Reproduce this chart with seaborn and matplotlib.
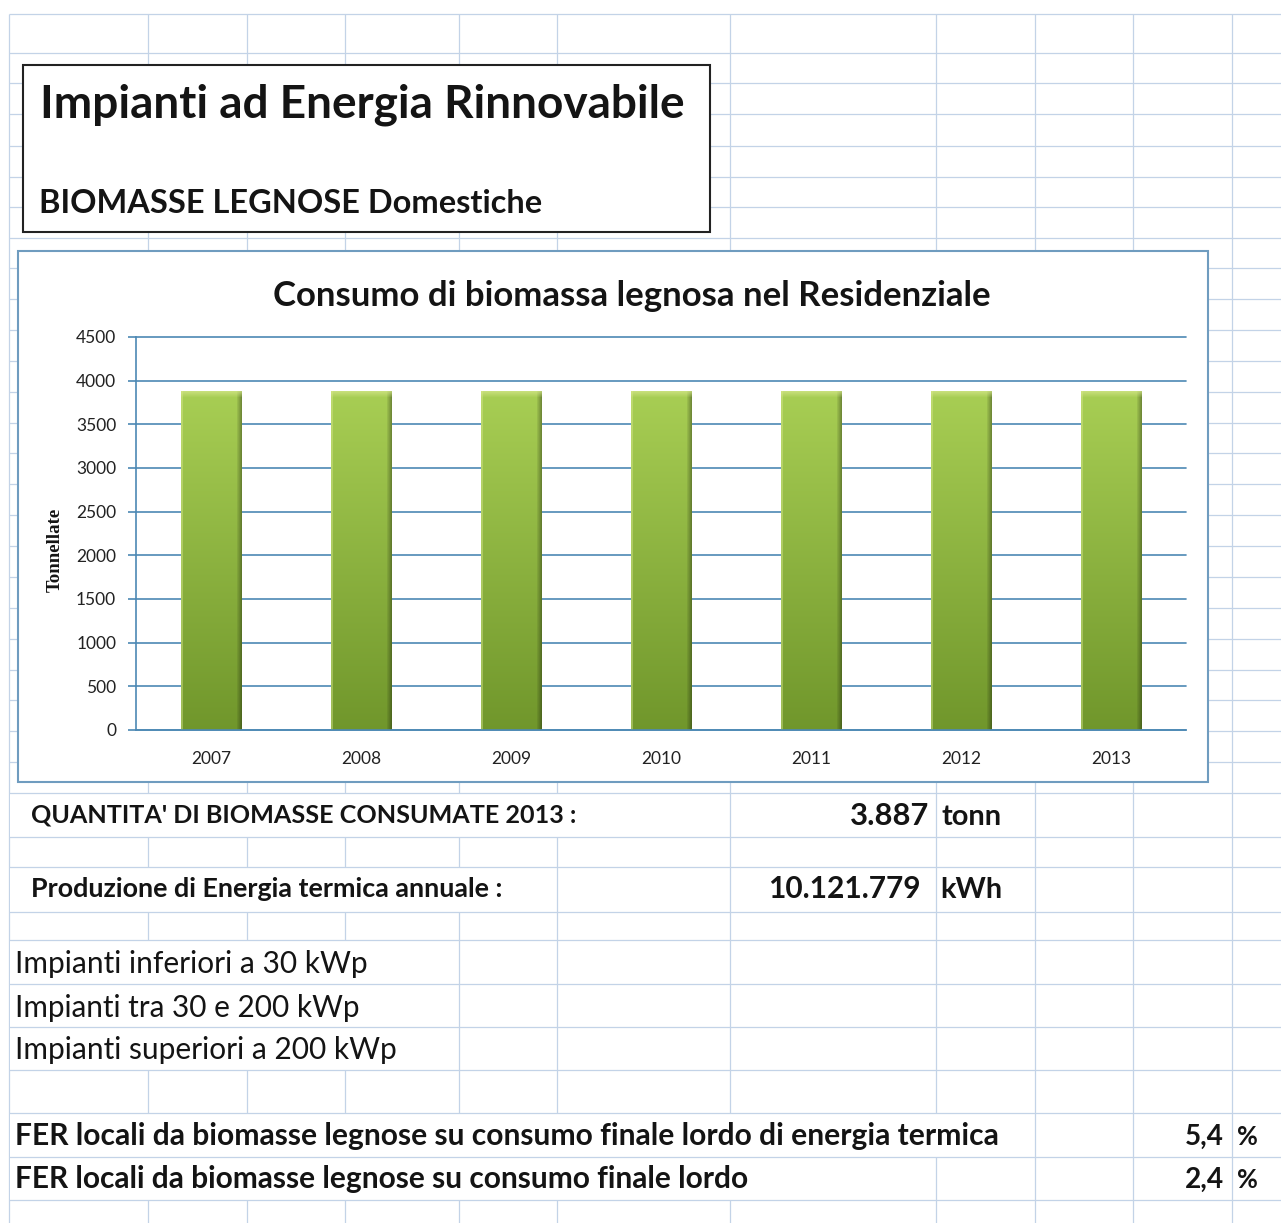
import numpy as np
import pandas as pd
import seaborn as sns
import matplotlib
matplotlib.use("Agg")
import matplotlib.pyplot as plt
from matplotlib.patches import Rectangle

# ---- data -------------------------------------------------------------
years = ["2007", "2008", "2009", "2010", "2011", "2012", "2013"]
consumo_tonn = [3887, 3887, 3887, 3887, 3887, 3887, 3887]
y_ticks = [0, 500, 1000, 1500, 2000, 2500, 3000, 3500, 4000, 4500]

titolo = "Impianti ad Energia Rinnovabile"
sottotitolo = "BIOMASSE LEGNOSE Domestiche"
titolo_grafico = "Consumo di biomassa legnosa nel Residenziale"
etichetta_y = "Tonnellate"

quantita_label = "QUANTITA' DI BIOMASSE CONSUMATE 2013 :"
quantita_valore = "3.887"
quantita_unita = "tonn"
produzione_label = "Produzione di Energia termica annuale :"
produzione_valore = "10.121.779"
produzione_unita = "kWh"
impianti_labels = ["Impianti inferiori a 30 kWp",
                   "Impianti tra 30 e 200 kWp",
                   "Impianti superiori a 200 kWp"]
fer_labels = ["FER locali da biomasse legnose su consumo finale lordo di energia termica",
              "FER locali da biomasse legnose su consumo finale lordo"]
fer_valori = ["5,4", "2,4"]

# ---- style ------------------------------------------------------------
sns.set_theme(style="white")
plt.rcParams["font.family"] = ["Lato", "DejaVu Sans"]

W, H = 1281, 1223
fig = plt.figure(figsize=(W / 100, H / 100), dpi=100)
fig.patch.set_facecolor("white")
renderer = fig.canvas.get_renderer()

INK = "#141414"
SHEET_GRID = "#c3d3e7"
CHART_LINE = "#4d89b4"
FRAME = "#6f9cbf"

# sheet layer in pixel coordinates (y grows downwards)
sheet = fig.add_axes([0, 0, 1, 1])
sheet.set_xlim(0, W)
sheet.set_ylim(H, 0)
sheet.axis("off")

col_lines = [9, 148, 247, 345, 459, 557, 730, 936, 1035, 1133, 1232]
row_lines = [14, 52.7, 83.3, 114.3, 145.7, 176.7, 207.3, 238.3, 268.3, 299.3,
             330, 361, 391.7, 422.7, 453.3, 484.3, 515, 546, 577, 608, 639,
             670, 700, 731, 762, 793, 837, 867, 911.7, 940, 984, 1027, 1070,
             1113, 1157, 1200]

sheet.vlines(col_lines, 14, H, color=SHEET_GRID, lw=0.9, zorder=1)

# cells whose text runs over the neighbouring empty cells hide the column lines
overflow = [(793, 837, 729), (867, 911.7, 556), (940, 984, 458), (984, 1027, 458),
            (1027, 1070, 458), (1113, 1157, 1034), (1157, 1200, 935)]
for top, bottom, right in overflow:
    sheet.add_patch(Rectangle((10, top), right - 10, bottom - top,
                              facecolor="white", edgecolor="none", zorder=1.5))

sheet.hlines(row_lines, 9, W, color=SHEET_GRID, lw=0.9, zorder=2)


def fitted_text(ax, x, y, s, width, vertical=False, **kw):
    """Place text and scale its size so that it spans `width` pixels."""
    t = ax.text(x, y, s, fontsize=20, color=kw.pop("color", INK), **kw)
    bb = t.get_window_extent(renderer)
    span = bb.height if vertical else bb.width
    t.set_fontsize(20 * width / span)
    return t


# title box
sheet.add_patch(Rectangle((23, 65), 687, 167, facecolor="white",
                          edgecolor="#222222", lw=1.5, zorder=3))
fitted_text(sheet, 40, 118, titolo, 646, fontweight="bold", va="baseline", zorder=4)
fitted_text(sheet, 39, 213, sottotitolo, 501, fontweight="bold", va="baseline", zorder=4)

# chart frame
sheet.add_patch(Rectangle((18, 251), 1190, 531, facecolor="white",
                          edgecolor=FRAME, lw=1.5, zorder=3))
fitted_text(sheet, 273, 306, titolo_grafico, 717, fontweight="bold",
            va="baseline", zorder=4)
fitted_text(sheet, 55, 550, etichetta_y, 84, vertical=True, rotation=90,
            ha="center", va="center", fontweight="bold",
            family=["Liberation Serif"], zorder=4)

# summary block below the chart
fitted_text(sheet, 31, 822, quantita_label, 546, fontweight="bold", va="baseline", zorder=4)
fitted_text(sheet, 929, 825, quantita_valore, 79, fontweight="bold", ha="right",
            va="baseline", zorder=4)
fitted_text(sheet, 942, 825, quantita_unita, 60, fontweight="bold", va="baseline", zorder=4)

fitted_text(sheet, 31, 897, produzione_label, 472, fontweight="bold", va="baseline", zorder=4)
fitted_text(sheet, 921, 898, produzione_valore, 153, fontweight="bold", ha="right",
            va="baseline", zorder=4)
fitted_text(sheet, 940, 898, produzione_unita, 62, fontweight="bold", va="baseline", zorder=4)

for label, base, right in zip(impianti_labels, [973, 1017, 1059], [368, 360, 398]):
    fitted_text(sheet, 15, base, label, right - 15, va="baseline", zorder=4)

for label, val, base, right in zip(fer_labels, fer_valori, [1145, 1188], [997, 748]):
    fitted_text(sheet, 15, base, label, right - 15, fontweight="bold",
                va="baseline", zorder=4)
    fitted_text(sheet, 1224, base, val, 39, fontweight="bold", ha="right",
                va="baseline", zorder=4)
    fitted_text(sheet, 1237, base, "%", 21, fontweight="bold", va="baseline", zorder=4)

# ---- bar chart --------------------------------------------------------
ax = fig.add_axes([136 / W, 1 - 730 / H, 1050 / W, 393 / H])
ax.set_facecolor("none")
df = pd.DataFrame({"Anno": years, "Tonnellate": consumo_tonn})
sns.barplot(data=df, x="Anno", y="Tonnellate", color="#8db83c", saturation=1,
            width=0.405, ax=ax, zorder=2)

ax.set_ylim(0, 4500)
ax.set_xlim(-0.5, len(years) - 0.5)
ax.set_yticks(y_ticks)
ax.set_xlabel("")
ax.set_ylabel("")
ax.yaxis.grid(True, color=CHART_LINE, lw=1.2)
for gl in ax.get_ygridlines():
    gl.set_clip_on(False)
ax.set_axisbelow(True)
for side in ("top", "right"):
    ax.spines[side].set_visible(False)
for side in ("left", "bottom"):
    ax.spines[side].set_color(CHART_LINE)
    ax.spines[side].set_linewidth(1.2)
ax.tick_params(axis="y", direction="out", length=5.8, width=1.2, color=CHART_LINE,
               pad=8.5, labelsize=12.5, labelcolor="#222222", left=True)
ax.tick_params(axis="x", length=0, pad=15, labelsize=12.5, labelcolor="#222222")

# shaded, bevelled fill for each bar
top_rgb = np.array([0.66, 0.81, 0.33])
bot_rgb = np.array([0.44, 0.59, 0.17])
light = np.array([0.84, 0.91, 0.55])
for p in list(ax.patches):
    x0, w, h = p.get_x(), p.get_width(), p.get_height()
    (px0, py0), (px1, py1) = ax.transData.transform([(x0, 0), (x0 + w, h)])
    nx, ny = max(int(round(px1 - px0)), 4), max(int(round(py1 - py0)), 4)
    t = np.linspace(0, 1, ny)[:, None, None]
    img = (1 - t) * top_rgb + t * bot_rgb
    img = np.repeat(img, nx, axis=1)
    shade = np.ones(nx)
    shade[-5:] = np.linspace(0.92, 0.68, 5)
    img = img * shade[None, :, None]
    img[:, :2, :] = 0.55 * img[:, :2, :] + 0.45 * light
    bevel = 7
    for i in range(bevel):
        a = 0.8 * (1 - i / bevel)
        img[i] = (1 - a) * img[i] + a * light
    img = np.clip(img, 0, 1)
    p.set_edgecolor("none")
    im = ax.imshow(img, extent=(x0, x0 + w, 0, h), aspect="auto", origin="upper",
                   interpolation="bilinear", zorder=2.1)
    im.set_clip_path(p)

ax.set_ylim(0, 4500)
ax.set_xlim(-0.5, len(years) - 0.5)

fig.savefig("out.png", dpi=100, facecolor="white")
